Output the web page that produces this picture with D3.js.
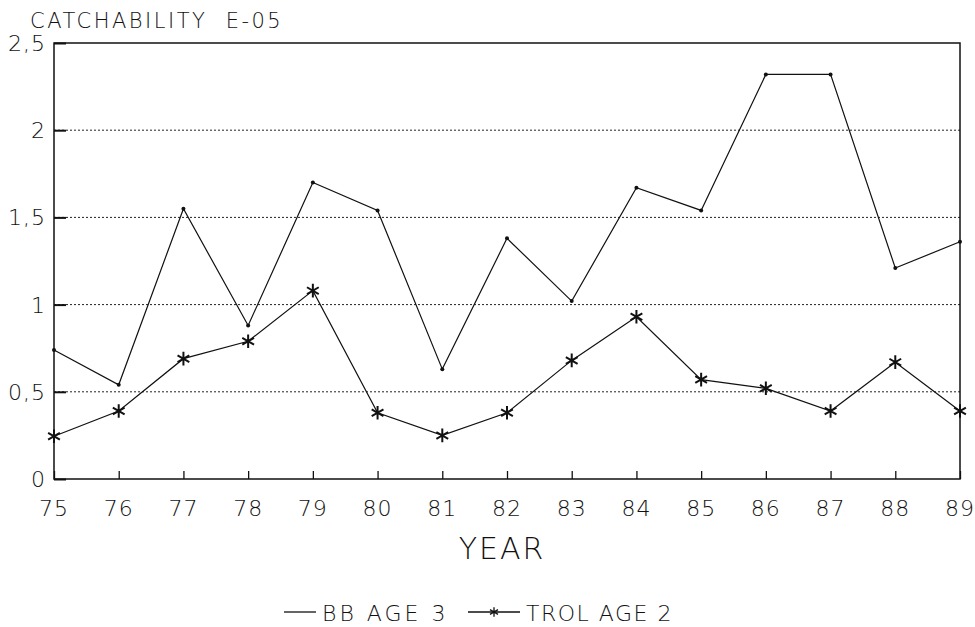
<!DOCTYPE html>
<html>
<head>
<meta charset="utf-8">
<title>Catchability</title>
<script src="https://cdn.jsdelivr.net/npm/d3@7/dist/d3.min.js"></script>
<style>
	body { margin: 0; background: #fff; }
	text { font-family: "DejaVu Sans", sans-serif; font-weight: 300; fill: #111; }
	.grid { stroke: #222; stroke-width: 1; stroke-dasharray: 2,2; }
	.frame { fill: none; stroke: #111; stroke-width: 1.5; }
	.series { fill: none; stroke: #111; stroke-width: 1.2; }
</style>
</head>
<body>
<div id="chart"></div>
<script>
var years   = ["75","76","77","78","79","80","81","82","83","84","85","86","87","88","89"];
var bbAge3  = [0.74, 0.54, 1.55, 0.88, 1.70, 1.54, 0.63, 1.38, 1.02, 1.67, 1.54, 2.32, 2.32, 1.21, 1.36];
var trolAge2= [0.245, 0.39, 0.69, 0.79, 1.08, 0.38, 0.25, 0.38, 0.68, 0.93, 0.57, 0.52, 0.39, 0.67, 0.39];
var yTicks  = [0, 0.5, 1, 1.5, 2, 2.5];
var yLabels = ["0", "0,5", "1", "1,5", "2", "2,5"];

var width = 975, height = 627;
var m = {left: 54, right: 15, top: 43, bottom: 148};

var svg = d3.select("#chart").append("svg")
	.attr("width", width)
	.attr("height", height);

var x = d3.scalePoint().domain(years).range([m.left, width - m.right]);
var y = d3.scaleLinear().domain([0, 2.5]).range([height - m.bottom, m.top]);

// dotted grid
svg.selectAll("line.grid")
	.data(yTicks.filter(function(d) { return d > 0 && d < 2.5; }))
	.enter().append("line")
	.attr("class", "grid")
	.attr("x1", m.left).attr("x2", width - m.right)
	.attr("y1", function(d) { return y(d); })
	.attr("y2", function(d) { return y(d); });

// y axis: ticks inside
var yAxis = svg.append("g")
	.attr("transform", "translate(" + m.left + ",0)")
	.call(d3.axisRight(y).tickValues(yTicks).tickSize(12).tickFormat(""));
yAxis.select(".domain").remove();
yAxis.selectAll("line").attr("stroke", "#111").attr("stroke-width", 2);

svg.selectAll("text.ylab")
	.data(yTicks)
	.enter().append("text")
	.attr("class", "ylab")
	.attr("x", 46)
	.attr("y", function(d) { return y(d) + 8; })
	.attr("text-anchor", "end")
	.attr("letter-spacing", 1)
	.style("font-size", "22px")
	.text(function(d, i) { return yLabels[i]; });

// x axis: ticks inside
var xAxis = svg.append("g")
	.attr("transform", "translate(0," + y(0) + ")")
	.call(d3.axisTop(x).tickSize(8).tickFormat(""));
xAxis.select(".domain").remove();
xAxis.selectAll("line").attr("stroke", "#111").attr("stroke-width", 1.3);

svg.selectAll("text.xlab")
	.data(years)
	.enter().append("text")
	.attr("class", "xlab")
	.attr("x", function(d) { return x(d); })
	.attr("y", y(0) + 37)
	.attr("text-anchor", "middle")
	.attr("letter-spacing", 1)
	.style("font-size", "22px")
	.text(function(d) { return d; });

// frame
svg.append("rect")
	.attr("class", "frame")
	.attr("x", m.left).attr("y", m.top)
	.attr("width", width - m.right - m.left)
	.attr("height", y(0) - m.top);

// titles
svg.append("text")
	.attr("x", 30).attr("y", 28)
	.attr("letter-spacing", 2.5)
	.style("font-size", "21px")
	.style("white-space", "pre")
	.text("CATCHABILITY  E-05");

svg.append("text")
	.attr("x", 502).attr("y", 559)
	.attr("text-anchor", "middle")
	.attr("letter-spacing", 2)
	.style("font-size", "30px")
	.text("YEAR");

// series
var line = d3.line()
	.x(function(d, i) { return x(years[i]); })
	.y(function(d) { return y(d); });

svg.append("path").datum(bbAge3).attr("class", "series").attr("d", line);
svg.append("path").datum(trolAge2).attr("class", "series").attr("d", line)
	.attr("stroke-width", 1.8);

svg.selectAll("circle.bb")
	.data(bbAge3)
	.enter().append("circle")
	.attr("class", "bb")
	.attr("cx", function(d, i) { return x(years[i]); })
	.attr("cy", function(d) { return y(d); })
	.attr("r", 2)
	.attr("fill", "#111");

var star = d3.symbol().type(d3.symbolAsterisk).size(130);
svg.selectAll("path.trol")
	.data(trolAge2)
	.enter().append("path")
	.attr("class", "trol")
	.attr("transform", function(d, i) { return "translate(" + x(years[i]) + "," + y(d) + ")"; })
	.attr("d", star)
	.attr("fill", "none")
	.attr("stroke", "#111")
	.attr("stroke-width", 2);

// legend
var lg = svg.append("g").attr("transform", "translate(0,612)");
lg.append("line").attr("x1", 284).attr("x2", 316).attr("y1", 0).attr("y2", 0)
	.attr("stroke", "#111").attr("stroke-width", 1.3);
lg.append("text").attr("x", 322).attr("y", 9).attr("letter-spacing", 3)
	.style("font-size", "22px").text("BB AGE 3");
lg.append("line").attr("x1", 468).attr("x2", 520).attr("y1", 0).attr("y2", 0)
	.attr("stroke", "#111").attr("stroke-width", 1.3);
lg.append("path").attr("transform", "translate(494,0)")
	.attr("d", d3.symbol().type(d3.symbolAsterisk).size(60))
	.attr("fill", "none").attr("stroke", "#111").attr("stroke-width", 1.3);
lg.append("text").attr("x", 526).attr("y", 9).attr("letter-spacing", 1.5)
	.style("font-size", "22px").text("TROL AGE 2");
</script>
</body>
</html>
